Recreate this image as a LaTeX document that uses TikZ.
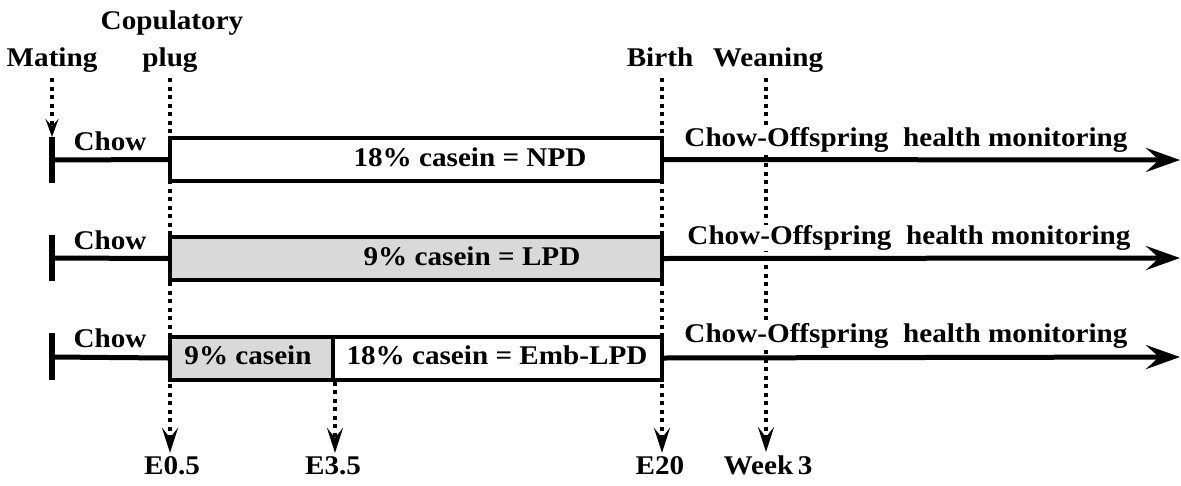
\documentclass[tikz,border=0pt]{standalone}
\usepackage{fontspec}
\setmainfont{Liberation Serif}[FakeStretch=1.08]
\usetikzlibrary{arrows.meta}
\definecolor{lpdgray}{HTML}{D9D9D9}
\begin{document}
\begin{tikzpicture}[x=1pt,y=-1pt,
  lbl/.style={font=\fontsize{27}{29}\selectfont\bfseries, inner sep=1pt},
  tlbl/.style={lbl, anchor=base},
  wlbl/.style={lbl, fill=white},
  diet/.style={draw, line width=4pt, minimum height=43pt, inner sep=0pt},
  timeline/.style={line width=5pt},
  startbar/.style={line width=5.5pt},
  mainarrow/.style={line width=5pt, -{Stealth[length=34pt,width=24pt,inset=13pt]}},
  dotarrow/.style={line width=4pt, dash pattern=on 4pt off 4.5pt, shorten >=2pt, -{Stealth[length=25pt,width=16pt,inset=10pt]}}]
\useasboundingbox (0,0) rectangle (1181,485);

% top labels
\node[tlbl] (mating) at (52,66) {Mating};
\node[tlbl] (copul) at (172,29) {Copulatory};
\node[tlbl] (plug) at (170,66) {plug};
\node[tlbl] (birth) at (660,66) {Birth};
\node[tlbl] (wean) at (768,66) {Weaning};

% bottom labels
\node[tlbl] (e05) at (172,474) {E0.5};
\node[tlbl] (e35) at (333,474) {E3.5};
\node[tlbl] (e20) at (660,474) {E20};
\node[tlbl] (wk3) at (768,474) {Week\,3};

% start bars
\coordinate (s1) at (52,160);
\coordinate (s2) at (52,258);
\coordinate (s3) at (52,357);
\draw[startbar] (52,137) coordinate (b1t) -- (52,183);
\draw[startbar] (52,235) -- (52,281);
\draw[startbar] (52,333) -- (52,380);

% dotted guides (behind boxes)
\coordinate (mattop) at (52,78);
\draw[dotarrow, shorten >=0pt, -{Stealth[length=18pt,width=13pt,inset=7pt]}] (mattop) -- (b1t);
\coordinate (plugtop) at (170,78);
\draw[dotarrow] (plugtop) -- (e05.north -| plugtop);
\coordinate (birthtop) at (662,78);
\draw[dotarrow] (birthtop) -- (e20.north -| birthtop);
\coordinate (weantop) at (766,78);
\draw[dotarrow] (weantop) -- (wk3.north -| weantop);

% diet boxes
\node[diet, minimum width=492pt] (npd) at (416,159.5) {};
\node[diet, fill=lpdgray, minimum width=492pt] (lpd) at (416,258.5) {};
\node[diet, fill=lpdgray, minimum width=163pt] (emb9) at (251.5,358) {};
\node[diet, minimum width=329pt] (emb18) at (497.5,358) {};
\node[lbl] (tnpd) at (470,157) {18\% casein = NPD};
\node[lbl] (tlpd) at (472,256) {9\% casein = LPD};
\node[lbl] (temb9) at (248,355) {9\% casein};
\node[lbl] (temb18) at (497,355) {18\% casein = Emb-LPD};

\draw[dotarrow] (emb9.south east) -- (e35.north -| emb9.south east);

% chow lines
\draw[timeline] (s1) -- (npd.west);
\draw[timeline] (s2) -- (lpd.west);
\draw[timeline] (s3) -- (emb9.west);
\node[lbl] (c1) at (110,141) {Chow};
\node[lbl] (c2) at (110,240) {Chow};
\node[lbl] (c3) at (110,338) {Chow};

% offspring arrows
\coordinate (end1) at (1180,160);
\coordinate (end2) at (1180,258);
\coordinate (end3) at (1180,357);
\draw[mainarrow] (npd.east) -- (end1);
\draw[mainarrow] (lpd.east) -- (end2);
\draw[mainarrow] (emb18.east) -- (end3);
\node[wlbl] (o1) at (906,140) {Chow-Offspring\ \ health monitoring};
\node[wlbl] (o2) at (909,238) {Chow-Offspring\ \ health monitoring};
\node[wlbl] (o3) at (906,336) {Chow-Offspring\ \ health monitoring};
\end{tikzpicture}
\end{document}
